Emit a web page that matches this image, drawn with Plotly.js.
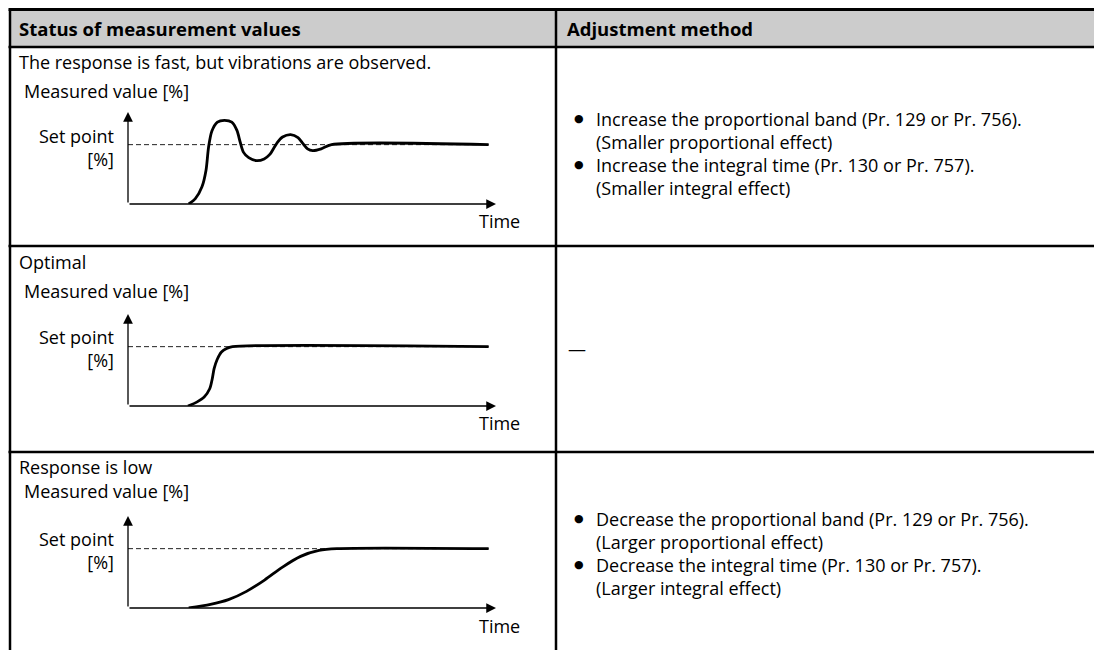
<!DOCTYPE html>
<html><head><meta charset="utf-8">
<script src="https://cdn.plot.ly/plotly-3.0.1.min.js"></script>
<style>html,body{margin:0;padding:0;background:#fff}#chart{width:1094px;height:650px}</style>
</head><body><div id="chart"></div>
<script>
// ---------- data ----------
const headers = ["Status of measurement values", "Adjustment method"];
const statuses = ["The response is fast, but vibrations are observed.", "Optimal", "Response is low"];
const yAxisLabel = "Measured value [%]";
const setPointLabel = ["Set point", "[%]"];
const xAxisLabel = "Time";
const setPoint = 100;
const timeEnd = 98;

const fastTime  = [16.5, 18.3, 20.1, 21.2, 21.9, 22.8, 24.3, 26.2, 28.2, 29.6, 30.5, 31.4, 32.8, 34.9, 37.0, 38.6, 39.6, 40.6, 42.0, 44.2, 46.2, 47.5, 48.8, 50.2, 52.5, 55.3, 98];
const fastValue = [0, 9, 29, 57, 96, 123, 138, 141, 138, 124, 104, 87, 78, 73, 76, 84, 94, 104, 113, 117, 112, 102, 93, 90, 93, 100, 100];

const optimalTime  = [16.3, 18.8, 20.7, 22.2, 22.9, 23.4, 24.2, 25.4, 26.8, 28.4, 98];
const optimalValue = [0, 7, 15, 29, 46, 63, 78, 91, 97, 100, 100];

const slowTime  = [16.5, 22.4, 27.3, 32.2, 37.1, 42.0, 46.9, 51.9, 56.8, 98];
const slowValue = [0, 6, 14, 28, 47, 69, 87, 97, 100, 100];

const methodsFast = ["Increase the proportional band (Pr. 129 or Pr. 756).", "(Smaller proportional effect)",
                     "Increase the integral time (Pr. 130 or Pr. 757).", "(Smaller integral effect)"];
const methodsOptimal = ["—"];
const methodsSlow = ["Decrease the proportional band (Pr. 129 or Pr. 756).", "(Larger proportional effect)",
                     "Decrease the integral time (Pr. 130 or Pr. 757).", "(Larger integral effect)"];

// ---------- layout helpers ----------
const W = 1094, H = 650;
const px = v => v / W;
const py = v => 1 - v / H;
const FONT = "Open Sans, Noto Sans, sans-serif";
const FS = 18;
const FSH = 18.5;

const tableLeft = 10, tableRight = W, colDiv = 556, tableTop = 9.5, headBottom = 47;
const rowDivs = [246, 452];

const rows = [
  {desc: 62,  meas: 91,  tip: 112, axis: 204, sp: 148, time: 221, lines: [119, 142, 165, 188]},
  {desc: 262, meas: 291, tip: 314, axis: 406, sp: 348, time: 423, lines: [349]},
  {desc: 467, meas: 491, tip: 516, axis: 608, sp: 550, time: 626, lines: [519, 542, 565, 588]}
];
const axLeft = 128, axRight = 496;
const yMax = 155;

const curves = [[fastTime, fastValue], [optimalTime, optimalValue], [slowTime, slowValue]];
const methods = [methodsFast, methodsOptimal, methodsSlow];

const traces = [];
const annotations = [];
const shapes = [];
const layout = {
  width: W, height: H, margin: {l: 0, r: 0, t: 0, b: 0},
  paper_bgcolor: "#fff", plot_bgcolor: "rgba(0,0,0,0)", showlegend: false,
  font: {family: FONT, size: FS, color: "#000"}
};

const txt = (x, y, text, anchor, size, extra) => annotations.push(Object.assign({
  xref: "paper", yref: "paper", x: px(x), y: py(y), text: text, showarrow: false,
  xanchor: anchor, yanchor: "middle", font: {family: FONT, size: size || FS, color: "#000"}}, extra || {}));

rows.forEach((r, i) => {
  const n = i === 0 ? "" : String(i + 1);
  const xa = "x" + n, ya = "y" + n;
  const axCommon = {visible: false, fixedrange: true, showgrid: false, zeroline: false};
  layout["xaxis" + n] = Object.assign({}, axCommon, {domain: [px(axLeft), px(axRight)], range: [0, 100], anchor: ya});
  layout["yaxis" + n] = Object.assign({}, axCommon, {domain: [py(r.axis), py(r.tip)], range: [0, yMax], anchor: xa});
  traces.push({x: [0, timeEnd], y: [setPoint, setPoint], xaxis: xa, yaxis: ya, mode: "lines",
    line: {color: "#222", width: 1, dash: "5px,3px"}, hoverinfo: "skip"});
  traces.push({x: curves[i][0], y: curves[i][1], xaxis: xa, yaxis: ya, mode: "lines",
    line: {color: "#000", width: 2.8, shape: "spline", smoothing: 0.8}, hoverinfo: "skip"});
  annotations.push({xref: xa, yref: ya, axref: xa, ayref: ya, x: 100, y: 0, ax: 0, ay: 0, text: "",
    showarrow: true, arrowhead: 2, arrowsize: 1.5, arrowwidth: 1.3, arrowcolor: "#000"});
  annotations.push({xref: xa, yref: ya, axref: xa, ayref: ya, x: 0, y: yMax, ax: 0, ay: 0, text: "",
    showarrow: true, arrowhead: 2, arrowsize: 1.5, arrowwidth: 1.3, arrowcolor: "#000"});
  txt(17, r.desc, statuses[i], "left");
  txt(22, r.meas, yAxisLabel, "left");
  txt(116, r.sp, setPointLabel.join("<br>"), "right", FS, {align: "right"});
  txt(522, r.time, xAxisLabel, "right");
  const m = methods[i];
  if (m.length === 1) {
    txt(566, r.lines[0], m[0], "left");
  } else {
    m.forEach((s, k) => {
      if (k % 2 === 0) txt(579, r.lines[k] - 1, "●", "center", 13, {font: {family: "DejaVu Sans", size: 11, color: "#000"}});
      txt(594, r.lines[k], s, "left");
    });
  }
});

// header
shapes.push({type: "rect", xref: "paper", yref: "paper", x0: px(tableLeft), x1: px(tableRight),
  y0: py(headBottom), y1: py(tableTop), fillcolor: "#cccccc", line: {width: 0}, layer: "below"});
txt(17, 28, "<b>" + headers[0] + "</b>", "left", FSH);
txt(565, 28, "<b>" + headers[1] + "</b>", "left", FSH);

// table lines
const hline = (y, w) => shapes.push({type: "line", xref: "paper", yref: "paper", x0: px(tableLeft - 1.5), x1: px(tableRight),
  y0: py(y), y1: py(y), line: {color: "#000", width: w}});
const vline = (x, w) => shapes.push({type: "line", xref: "paper", yref: "paper", x0: px(x), x1: px(x),
  y0: py(tableTop), y1: 0, line: {color: "#000", width: w}});
hline(tableTop, 3);
hline(headBottom, 2.5);
rowDivs.forEach(y => hline(y, 2.5));
vline(tableLeft, 2.5);
vline(colDiv, 2.5);

layout.shapes = shapes;
layout.annotations = annotations;
Plotly.newPlot("chart", traces, layout, {staticPlot: true, displayModeBar: false});
</script>
</body></html>
